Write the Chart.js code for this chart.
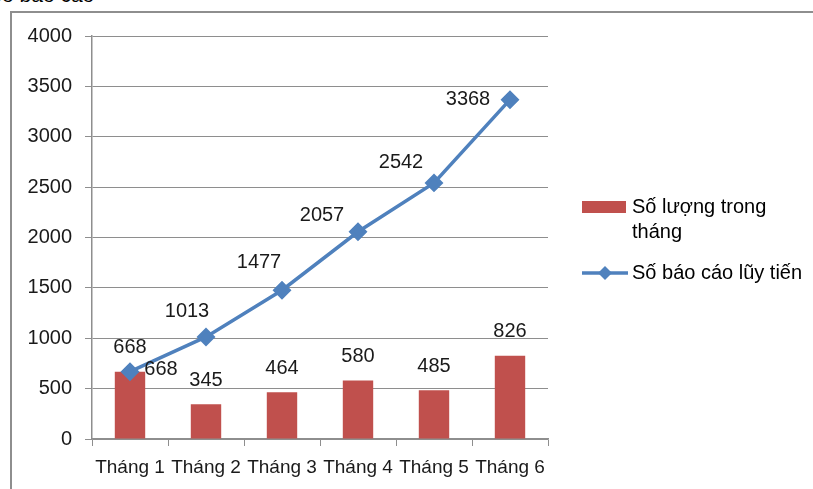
<!DOCTYPE html>
<html>
<head>
<meta charset="utf-8">
<script src="https://cdn.jsdelivr.net/npm/chart.js@4"></script>
<style>
  html, body { margin: 0; padding: 0; background: #fff; overflow: hidden; }
  #wrap { position: relative; width: 813px; height: 489px; }
  #frame { position: absolute; left: 10px; top: 11px; width: 900px; height: 600px; border: 2px solid #8e8e8e; }
  #title { position: absolute; left: -12px; top: -17px; font: 21px "Liberation Sans", Arial, sans-serif; color: #000; }
  canvas { position: absolute; left: 0; top: 0; }
</style>
</head>
<body>
<div id="wrap">
  <div id="frame"></div>
  <div id="title">Số báo cáo</div>
  <canvas id="chart" width="813" height="489"></canvas>
</div>
<script>
// dữ liệu
const months = ['Tháng 1', 'Tháng 2', 'Tháng 3', 'Tháng 4', 'Tháng 5', 'Tháng 6'];
const monthlyCount = [668, 345, 464, 580, 485, 826];
const cumulativeCount = [668, 1013, 1477, 2057, 2542, 3368];
const yTicks = [0, 500, 1000, 1500, 2000, 2500, 3000, 3500, 4000];

const FONT = '"Liberation Sans", Arial, sans-serif';
const RED = '#C0504D';
const BLUE = '#4F81BD';
const GRID = '#8e8e8e';

// vị trí nhãn của đường (lệch so với điểm, px)
const lineLabelOffset = [[31, -2], [-19, -25], [-23, -28], [-36, -16], [-33, -20], [-42, 0]];

const labelPlugin = {
  id: 'labels',
  afterDatasetsDraw(chart) {
    const ctx = chart.ctx;
    ctx.save();
    ctx.font = '20px ' + FONT;
    ctx.fillStyle = '#1a1a1a';
    ctx.textAlign = 'center';
    ctx.textBaseline = 'middle';
    chart.getDatasetMeta(0).data.forEach((bar, i) => {
      ctx.fillText(monthlyCount[i], bar.x, bar.y - 24);
    });
    chart.getDatasetMeta(1).data.forEach((pt, i) => {
      const o = lineLabelOffset[i];
      ctx.fillText(cumulativeCount[i], pt.x + o[0], pt.y + o[1]);
    });
    ctx.restore();
  }
};

const legendPlugin = {
  id: 'sideLegend',
  afterDraw(chart) {
    const ctx = chart.ctx;
    ctx.save();
    ctx.font = '20px ' + FONT;
    ctx.textBaseline = 'middle';
    ctx.fillStyle = RED;
    ctx.fillRect(582, 201, 44, 12);
    ctx.fillStyle = '#000';
    ctx.fillText('Số lượng trong', 632, 207);
    ctx.fillText('tháng', 632, 232);
    ctx.strokeStyle = BLUE;
    ctx.lineWidth = 3.5;
    ctx.beginPath();
    ctx.moveTo(582, 273);
    ctx.lineTo(628, 273);
    ctx.stroke();
    ctx.fillStyle = BLUE;
    ctx.beginPath();
    ctx.moveTo(605, 266);
    ctx.lineTo(612, 273);
    ctx.lineTo(605, 280);
    ctx.lineTo(598, 273);
    ctx.closePath();
    ctx.fill();
    ctx.fillStyle = '#000';
    ctx.fillText('Số báo cáo lũy tiến', 632, 273);
    ctx.restore();
  }
};

new Chart(document.getElementById('chart'), {
  type: 'bar',
  data: {
    labels: months,
    datasets: [{
      label: 'Số lượng trong tháng',
      data: monthlyCount,
      backgroundColor: RED,
      barPercentage: 0.4,
      categoryPercentage: 1,
      order: 1
    }, {
      type: 'line',
      label: 'Số báo cáo lũy tiến',
      data: cumulativeCount,
      borderColor: BLUE,
      backgroundColor: BLUE,
      borderWidth: 3.5,
      pointStyle: 'rectRot',
      pointRadius: 7,
      pointBackgroundColor: BLUE,
      pointBorderColor: BLUE,
      tension: 0,
      order: 0
    }]
  },
  options: {
    responsive: false,
    animation: false,
    layout: { padding: { left: 0, top: 36, right: 265, bottom: 0 } },
    plugins: { legend: { display: false }, tooltip: { enabled: false } },
    scales: {
      x: {
        offset: true,
        grid: { offset: true, drawOnChartArea: false, tickLength: 7, color: GRID },
        border: { color: GRID, width: 1.5 },
        ticks: { font: { family: FONT, size: 19 }, color: '#1a1a1a', padding: 10, maxRotation: 0 },
        afterFit(s) { s.height = 50; }
      },
      y: {
        min: 0,
        max: 4000,
        afterBuildTicks(s) { s.ticks = yTicks.map(v => ({ value: v })); },
        grid: { color: GRID, tickLength: 7 },
        border: { color: GRID, width: 1.5 },
        ticks: { font: { family: FONT, size: 20 }, color: '#1a1a1a', padding: 13, callback: v => String(v) },
        afterFit(s) { s.width = 92; }
      }
    }
  },
  plugins: [labelPlugin, legendPlugin]
});
</script>
</body>
</html>
